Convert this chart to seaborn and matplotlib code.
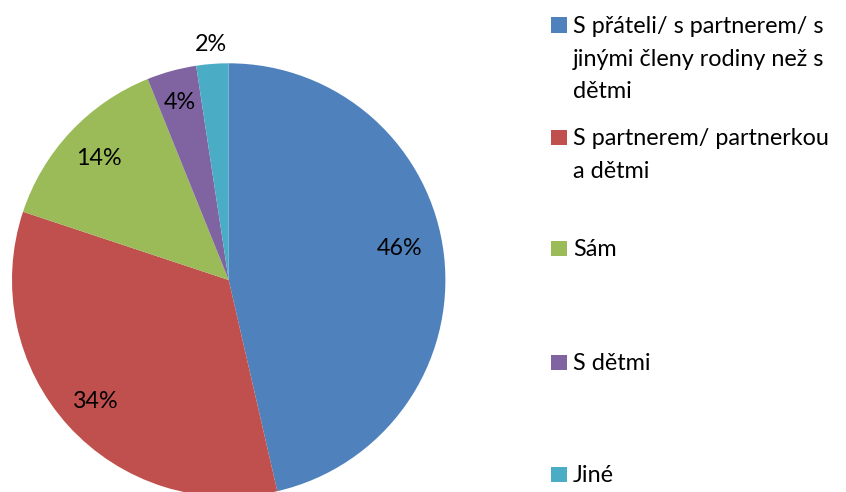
import numpy as np
import matplotlib
matplotlib.use("Agg")
import matplotlib.pyplot as plt
import seaborn as sns
from matplotlib.patches import Rectangle

sns.set_theme(style="white")
plt.rcParams["font.family"] = ["Lato", "DejaVu Sans"]

categories = [
    "S přáteli/ s partnerem/ s\njinými členy rodiny než s\ndětmi",
    "S partnerem/ partnerkou\na dětmi",
    "Sám",
    "S dětmi",
    "Jiné",
]
shares = [46.4, 33.7, 13.8, 3.7, 2.4]
pct_labels = ["46%", "34%", "14%", "4%", "2%"]
colors = sns.color_palette(["#4F81BD", "#C0504D", "#9BBB59", "#8064A2", "#4BACC6"])

W, H = 846, 492
fig = plt.figure(figsize=(W / 100, H / 100), dpi=100)

# pie centre ~ (229, 280) px, radius ~217 px
cx, cy, r = 228.7, 280.0, 216.7
ax = fig.add_axes([(cx - r) / W, (H - cy - r) / H, 2 * r / W, 2 * r / H])
wedges, _ = ax.pie(shares, colors=colors, startangle=90, counterclock=False,
                   radius=1.0, wedgeprops=dict(linewidth=0))
ax.set_xlim(-1, 1)
ax.set_ylim(-1, 1)
ax.set_aspect("equal")
ax.axis("off")

fs = 16.8
# excel-style "best fit" label placement: radial distance + small angle nudge
label_dist = [0.80, 0.83, 0.82, 0.85, 1.09]
label_nudge = [4.0, 0, 0, 0, 0]
for w, lab, d, nd in zip(wedges, pct_labels, label_dist, label_nudge):
    ang = np.deg2rad((w.theta1 + w.theta2) / 2 + nd)
    ax.text(d * np.cos(ang), d * np.sin(ang), lab, ha="center", va="center",
            fontsize=fs, color="black", clip_on=False)

# legend: centre of the marker (first line) of each entry, pixel rows
rows = [25, 137, 248, 362, 474]
line_h = 32.5
for col, lab, y in zip(colors, categories, rows):
    fig.add_artist(Rectangle((551 / W, (H - y - 7.5) / H), 15.5 / W, 15 / H,
                             transform=fig.transFigure, facecolor=col,
                             edgecolor="none"))
    for k, line in enumerate(lab.split("\n")):
        base = y + 8.3 + k * line_h
        fig.text(573 / W, (H - base) / H, line, ha="left", va="baseline",
                 fontsize=fs, color="black")

fig.savefig("out.png", dpi=100)
